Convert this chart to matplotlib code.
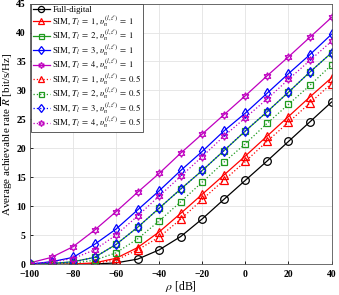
import matplotlib
matplotlib.use("Agg")
import matplotlib.pyplot as plt
import numpy as np

rho = [-100, -90, -80, -70, -60, -50, -40, -30, -20, -10, 0, 10, 20, 30, 40]
full_digital = [0, 0, 0, 0.05, 0.25, 0.9, 2.5, 4.8, 7.85, 11.2, 14.5, 17.8, 21.2, 24.6, 28.0]
sim_t1_v1 = [0, 0, 0.05, 0.25, 1.05, 2.9, 5.6, 8.8, 12.1, 15.4, 18.7, 22.1, 25.5, 28.9, 32.2]
sim_t2_v1 = [0.02, 0.15, 0.45, 1.2, 3.45, 6.4, 9.7, 13.0, 16.2, 19.6, 23.0, 26.3, 29.7, 33.2, 36.5]
sim_t3_v1 = [0.05, 0.45, 1.2, 3.45, 6.1, 9.4, 12.7, 16.2, 19.5, 23.0, 26.1, 29.5, 32.9, 36.2, 39.7]
sim_t4_v1 = [0.25, 1.2, 3.05, 5.9, 9.1, 12.45, 15.7, 19.2, 22.5, 25.8, 29.1, 32.5, 35.8, 39.2, 42.6]
sim_t1_v05 = [0, 0, 0.02, 0.15, 0.75, 2.5, 4.7, 7.8, 11.2, 14.5, 17.75, 21.2, 24.5, 27.85, 31.2]
sim_t2_v05 = [0, 0.05, 0.2, 0.7, 2.0, 4.4, 7.5, 10.8, 14.2, 17.6, 20.8, 24.3, 27.6, 30.9, 34.4]
sim_t3_v05 = [0.02, 0.15, 0.4, 1.2, 3.45, 6.4, 9.7, 13.0, 16.2, 19.6, 23.06, 26.3, 29.7, 33.2, 36.5]
sim_t4_v05 = [0.1, 0.4, 1.0, 2.5, 5.07, 8.35, 11.8, 15.2, 18.6, 22.1, 25.3, 28.5, 31.9, 35.2, 38.5]

labels = [
    "Full-digital",
    r"SIM, $T_l\;=\;1$, $\upsilon_n^{(l,\ell)}\;=\;1$",
    r"SIM, $T_l\;=\;2$, $\upsilon_n^{(l,\ell)}\;=\;1$",
    r"SIM, $T_l\;=\;3$, $\upsilon_n^{(l,\ell)}\;=\;1$",
    r"SIM, $T_l\;=\;4$, $\upsilon_n^{(l,\ell)}\;=\;1$",
    r"SIM, $T_l\;=\;1$, $\upsilon_n^{(l,\ell)}\;=\;0.5$",
    r"SIM, $T_l\;=\;2$, $\upsilon_n^{(l,\ell)}\;=\;0.5$",
    r"SIM, $T_l\;=\;3$, $\upsilon_n^{(l,\ell)}\;=\;0.5$",
    r"SIM, $T_l\;=\;4$, $\upsilon_n^{(l,\ell)}\;=\;0.5$",
]

plt.rcParams['font.family'] = ['Liberation Serif', 'DejaVu Serif']
plt.rcParams['mathtext.fontset'] = 'stix'

fig = plt.figure(figsize=(3.39, 2.95), dpi=100)
ax = fig.add_axes([0.0885, 0.104, 0.8895, 0.884])

green = '#1f9a1f'
hexagram = (6, 1, 0)
series = [
    (full_digital, 'k', 'o', '-'),
    (sim_t1_v1, 'r', '^', '-'),
    (sim_t2_v1, green, 's', '-'),
    (sim_t3_v1, 'b', 'd', '-'),
    (sim_t4_v1, 'm', hexagram, '-'),
    (sim_t1_v05, 'r', '^', ':'),
    (sim_t2_v05, green, 's', ':'),
    (sim_t3_v05, 'b', 'd', ':'),
    (sim_t4_v05, 'm', hexagram, ':'),
]
for (vals, c, m, ls), lab in zip(series, labels):
    ms = 5.5 if m != 's' else 4.5
    ax.plot(rho, vals, color=c, marker=m, linestyle=ls, linewidth=0.9,
            markersize=ms, markerfacecolor='none', markeredgewidth=0.9, label=lab)

ax.set_xlim(-100, 40)
ax.set_ylim(0, 45)
ax.set_xticks(np.arange(-100, 41, 20))
ax.set_yticks(np.arange(0, 46, 5))
ax.tick_params(direction='in', length=2.5, width=0.6, labelsize=7, top=False, right=False)
ax.tick_params(axis='x', pad=4)
ax.tick_params(axis='y', pad=3)
for t in ax.get_xticklabels() + ax.get_yticklabels():
    t.set_fontweight('bold')
ax.grid(True, color='#e3e3e3', linewidth=0.6)
ax.set_axisbelow(True)
for s in ax.spines.values():
    s.set_linewidth(0.6)
    s.set_color('#555555')

ax.set_xlabel(r"$\rho$ [dB]", fontsize=8.5, labelpad=0)
ax.set_ylabel(r"Average achievable rate $\overline{R}$ [bit/s/Hz]", fontsize=8, labelpad=0.5)

leg = ax.legend(loc='upper left', fontsize=6.3, handlelength=2.0, handletextpad=0.25,
                borderaxespad=0.1, borderpad=0.2, labelspacing=0.0, fancybox=False,
                framealpha=1, edgecolor='#444444', markerscale=0.8)
leg.get_frame().set_linewidth(0.6)

fig.savefig('out.png', dpi=100)
